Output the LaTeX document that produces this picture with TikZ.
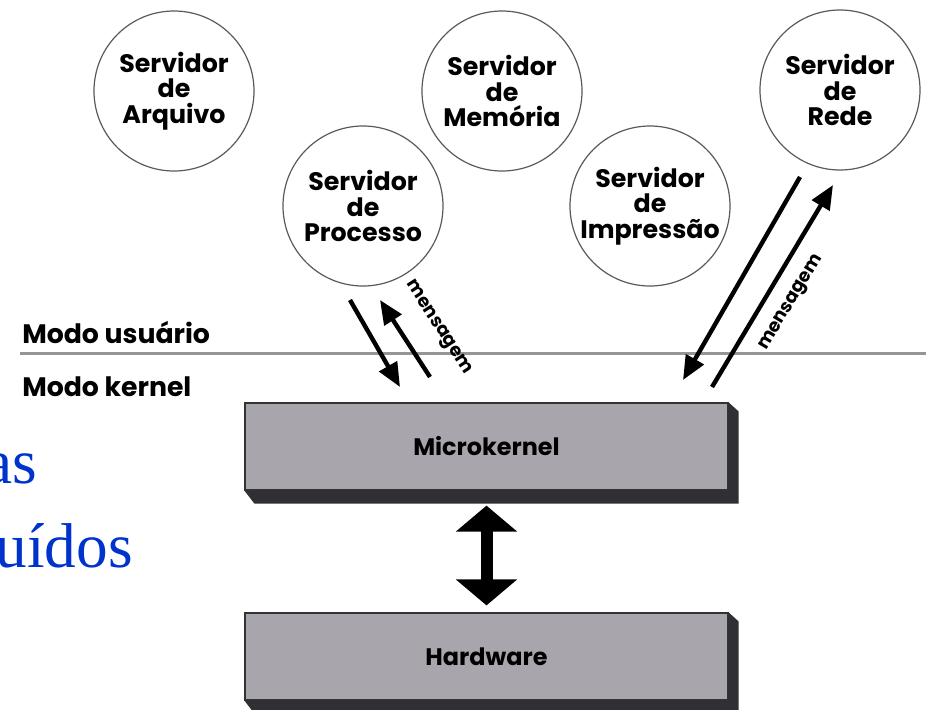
\documentclass[tikz,border=0pt]{standalone}
\usepackage{fontspec}
\setmainfont{Liberation Serif}
\newfontfamily\diagfont{Poppins}
\usetikzlibrary{arrows.meta, positioning, calc}
\definecolor{slideblue}{RGB}{0,51,204}
\definecolor{slabface}{RGB}{168,166,172}
\definecolor{slabdark}{RGB}{48,48,52}
\definecolor{modeline}{RGB}{150,150,150}

\begin{document}
\begin{tikzpicture}[
    x=0.25mm, y=-0.25mm,
    server/.style={circle, draw=black!65, line width=0.3mm, minimum size=40mm, inner sep=0pt, align=center, font=\diagfont\bfseries\fontsize{18}{18}\selectfont},
    slab/.style={rectangle, draw=black!80, line width=0.3mm, fill=slabface, minimum width=120.75mm, minimum height=21.75mm, font=\diagfont\bfseries\fontsize{17}{17}\selectfont},
    mode/.style={anchor=base west, inner sep=0pt, font=\diagfont\bfseries\fontsize{19}{19}\selectfont},
    slide/.style={anchor=base east, inner sep=0pt, text=slideblue, font=\fontsize{45}{45}\selectfont},
    msg/.style={-{Triangle[length=6mm, width=5mm]}, line width=1.1mm},
    msglabel/.style={sloped, inner sep=1pt, font=\diagfont\bfseries\fontsize{13}{13}\selectfont},
    bigarrow/.style={{Triangle[length=6.5mm, width=15mm]}-{Triangle[length=6.5mm, width=15mm]}, line width=3mm}
]
\useasboundingbox (0,0) rectangle (926,710);

% Servers
\node[server] (arquivo) at (174,91) {Servidor\\de\\Arquivo};
\node[server] (memoria) at (502,91) {Servidor\\de\\Memória};
\node[server] (processo) at (363,206) {Servidor\\de\\Processo};
\node[server] (impressao) at (650,206) {Servidor\\de\\Impressão};
\node[server] (rede) at (840,90) {Servidor\\de\\Rede};

% User / kernel boundary
\draw[modeline, line width=0.75mm] (20,353) -- (926,353);
\node[mode] (usuario) at (22,343) {Modo usuário};
\node[mode] (kernel) at (22,396) {Modo kernel};

% Slide text behind
\node[slide] (txtone) at (37,483) {as};
\node[slide] (txttwo) at (133,567) {buídos};

% Microkernel and hardware
\node[slab] (mk) at (486.5,446.5) {Microkernel};
\node[slab] (hw) at (486.5,656.5) {Hardware};
\foreach \s in {mk, hw}
  \fill[slabdark] (\s.south west) -- ++(10,13) -- ($(\s.south east)+(10,13)$)
    -- ($(\s.north east)+(10,9)$) -- (\s.north east) -- (\s.south east) -- cycle;

\draw[bigarrow, shorten <=3.75mm, shorten >=1.75mm] (mk.south) -- (hw.north);

% Messages
\coordinate (procout) at ($(processo)+(-13,94)$);
\coordinate (procin) at ($(processo)+(17,94)$);
\coordinate (mkleft) at ($(procout)+(50,87)$);
\coordinate (mkleftin) at ($(procin)+(50,77)$);
\coordinate (redeout) at ($(rede)+(-40,87)$);
\coordinate (redein) at ($(rede)+(-7,95)$);
\coordinate (mkright) at (683,380);
\coordinate (mkrightin) at (712,387);

\draw[msg] (procout) -- (mkleft);
\draw[msg] (mkleftin) -- node[msglabel, above=5.5mm, pos=0.4] {mensagem} (procin);
\draw[msg] (redeout) -- (mkright);
\draw[msg] (mkrightin) -- node[msglabel, below=3.5mm, pos=0.48] {mensagem} (redein);

\end{tikzpicture}
\end{document}
